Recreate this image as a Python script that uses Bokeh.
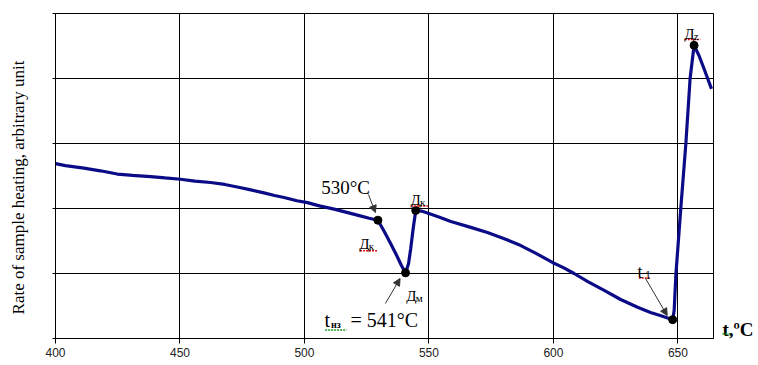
import math
from bokeh.plotting import figure
from bokeh.layouts import row
from bokeh.models import Label, Arrow, NormalHead, CustomJSTickFormatter, FixedTicker, Range1d
from bokeh.core.properties import value
from bokeh.embed import file_html
from bokeh.resources import INLINE

# ---- data ----
temp = [400.0, 404, 411.4, 418, 424.8, 431, 438.2, 444, 450.2, 456, 462.3, 468,
        473.0, 478, 483.7, 488, 491.8, 497, 501.2, 506, 511.9, 517, 522, 526,
        529.5, 532, 534.6, 537, 539, 540.6, 541.8, 542.7, 543.7, 544.7, 547,
        549.4, 554, 558.8, 566.8, 573.5, 580, 586.9, 593, 599.6, 604,
        608.3, 614, 620.4, 627, 633.8, 639, 643.2, 647.9, 648.5, 649.2, 651.2,
        653.2, 654.9, 656.5, 658.5, 660.5, 663.5]
rate = [2.69, 2.66, 2.62, 2.58, 2.53, 2.51, 2.49, 2.47, 2.45, 2.42, 2.40, 2.37,
        2.33, 2.29, 2.24, 2.20, 2.17, 2.12, 2.09, 2.04, 1.99, 1.94, 1.89, 1.85,
        1.82, 1.65, 1.46, 1.28, 1.12, 1.01, 1.15, 1.39, 1.70, 1.97, 1.96,
        1.93, 1.87, 1.80, 1.71, 1.63, 1.54, 1.43, 1.31, 1.17, 1.09,
        1.00, 0.87, 0.74, 0.60, 0.48, 0.40, 0.35, 0.29, 0.43, 0.99, 2.02,
        3.00, 4.00, 4.51, 4.35, 4.15, 3.84]

marker_temp = [529.5, 540.6, 544.7, 647.9, 656.5]
marker_rate = [1.82, 1.01, 1.97, 0.29, 4.51]

x_ticks = [400, 450, 500, 550, 600, 650]
y_ticks = [0, 1, 2, 3, 4, 5]

y_title = "Rate of sample heating,  arbitrary unit"
x_title = "t,ºC"

SERIF = "Liberation Serif"
SANS = "Liberation Sans"
H = 365
LEFT_W = 30
RIGHT_W = 42

# ---------------- main chart ----------------
p = figure(width=758 - LEFT_W - RIGHT_W, height=H, output_backend="svg",
           toolbar_location=None,
           x_range=Range1d(400, 664.3), y_range=Range1d(0, 5),
           min_border_left=25, min_border_right=3, min_border_top=13,
           min_border_bottom=27)
p.background_fill_color = "white"
p.border_fill_color = "white"
p.outline_line_color = "black"
p.outline_line_width = 1

p.xaxis.ticker = FixedTicker(ticks=x_ticks)
p.yaxis.ticker = FixedTicker(ticks=y_ticks)
for ax in (p.xaxis[0], p.yaxis[0]):
    ax.axis_line_color = "black"
    ax.major_tick_line_color = "black"
    ax.minor_tick_line_color = None
    ax.major_tick_in = 0
p.xaxis.major_tick_out = 5
p.yaxis.major_tick_out = 3
p.yaxis.formatter = CustomJSTickFormatter(code="return ''")
p.xaxis.major_label_text_font = SANS
p.xaxis.major_label_text_font_size = "12px"
p.xaxis.major_label_text_color = "#222222"
p.xaxis.major_label_standoff = 4

p.xgrid.ticker = FixedTicker(ticks=x_ticks)
p.ygrid.ticker = FixedTicker(ticks=y_ticks)
p.xgrid.grid_line_color = "black"
p.ygrid.grid_line_color = "black"

p.line(temp, rate, line_color="#0b0b87", line_width=3.2)
p.scatter(marker_temp, marker_rate, size=8, fill_color="black", line_color="black")

def lab(x, y, text, size, bold=False):
    p.add_layout(Label(x=x, y=y, text=text, text_font=SERIF, text_font_size=f"{size}px",
                       text_font_style="bold" if bold else "normal", text_color="black",
                       text_align="left", text_baseline="alphabetic"))

lab(506.7, 2.33, "530°C", 19)
lab(508.0, 0.277, "t", 20)
lab(510.7, 0.211, "нз", 10, bold=True)
lab(518.5, 0.277, "= 541°C", 20)

lab(522.0, 1.45, "Д", 15)
lab(525.8, 1.42, "к", 11)
lab(542.6, 2.13, "Д", 15)
lab(546.4, 2.10, "к", 11)
lab(540.9, 0.66, "Д", 15)
lab(544.7, 0.63, "м", 11)
lab(652.6, 4.69, "Д", 15)
lab(656.4, 4.66, "z", 11)
lab(633.8, 1.02, "t", 18)
lab(636.8, 0.97, "1", 12)

# spell-check style wavy underlines
p.segment(x0=[522.3, 542.9, 652.8, 634.3], y0=[1.35, 2.04, 4.60, 0.93],
          x1=[529.3, 549.8, 659.0, 639.0], y1=[1.35, 2.04, 4.60, 0.93],
          line_color="#e01010", line_width=1.5, line_dash="2 1")
p.segment(x0=[508.3], y0=[0.13], x1=[516.9], y1=[0.13],
          line_color="#20a020", line_width=1.5, line_dash="2 1")

for (xs, ys, xe, ye) in [(525.7, 2.215, 528.5, 1.938),
                         (532.5, 0.538, 538.4, 0.923),
                         (637.0, 0.923, 645.7, 0.354)]:
    p.add_layout(Arrow(x_start=xs, y_start=ys, x_end=xe, y_end=ye,
                       line_color="#333333", line_width=1,
                       end=NormalHead(size=7, fill_color="#333333", line_color="#333333")))

# ---------------- side strips for the axis titles ----------------
def strip(w):
    f = figure(width=w, height=H, output_backend="svg", toolbar_location=None,
               x_range=Range1d(0, w), y_range=Range1d(0, H),
               x_axis_type=None, y_axis_type=None,
               min_border_left=0, min_border_right=0, min_border_top=0, min_border_bottom=0)
    f.outline_line_color = None
    f.xgrid.visible = False
    f.ygrid.visible = False
    f.background_fill_color = "white"
    f.border_fill_color = "white"
    return f

left = strip(LEFT_W)
left.text(x=[18], y=[H - 193], text=[y_title], angle=math.pi / 2,
          text_font=value(SERIF), text_font_size="17px", text_color="black",
          text_align="center", text_baseline="middle")

right = strip(RIGHT_W)
right.text(x=[6], y=[H - 355], text=[x_title], text_font=value(SERIF),
           text_font_size="19px", text_font_style="bold", text_color="black",
           text_align="left", text_baseline="alphabetic")
right.segment(x0=[6], y0=[H - 360], x1=[14], y1=[H - 360],
              line_color="#20a020", line_width=1.5, line_dash="2 1")

layout = row(left, p, right, spacing=0)
open("out.html", "w").write(file_html(layout, INLINE))
